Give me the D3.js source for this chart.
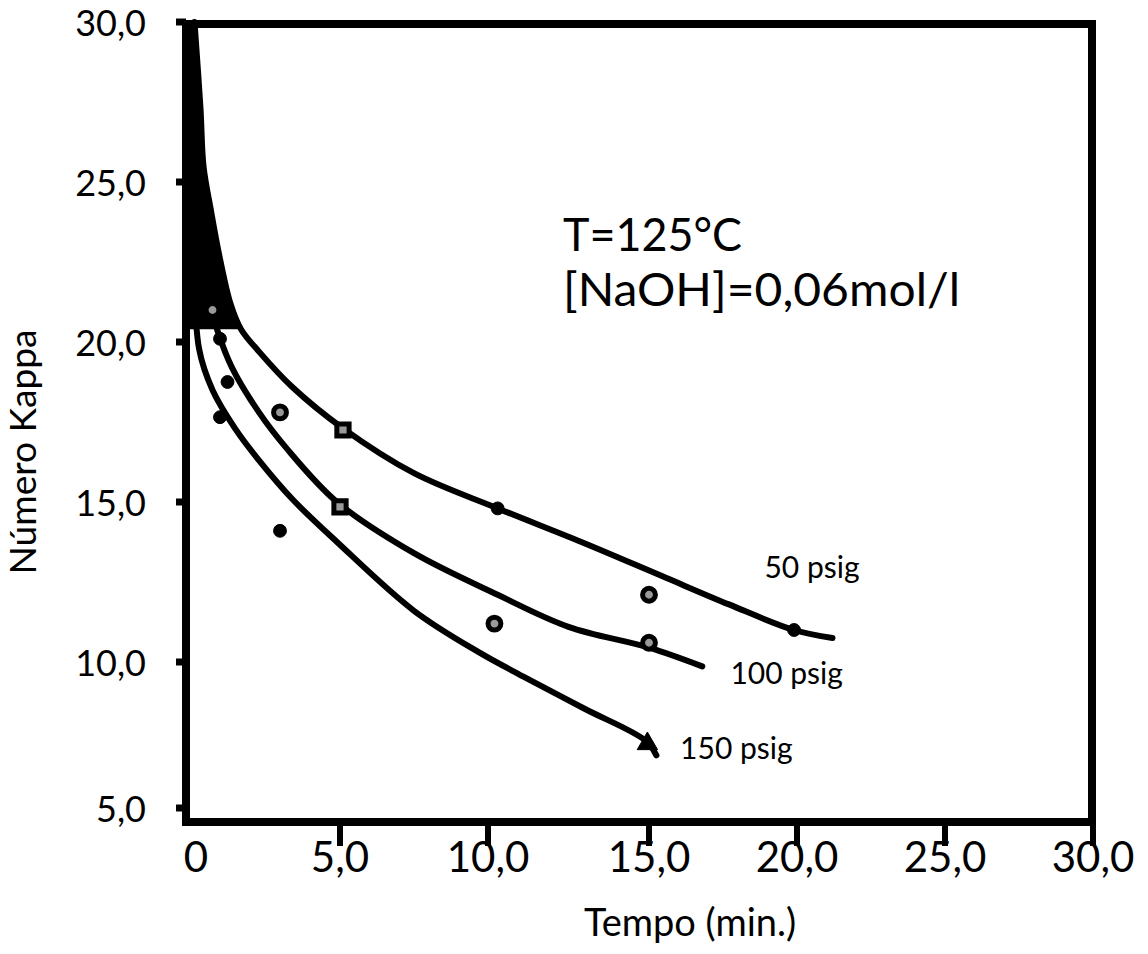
<!DOCTYPE html>
<html>
<head>
<meta charset="utf-8">
<script src="https://cdn.jsdelivr.net/npm/d3@7"></script>
<style>
body { margin: 0; background: white; }
text { font-family: Lato, "Open Sans", sans-serif; fill: black; }
</style>
</head>
<body>
<svg></svg>
<script>
// curve readings (time in min, kappa number)
var time50 = [0.15, 0.35, 0.45, 0.7, 1.0, 1.35, 1.7, 2.3, 3.4, 5.1, 7.5, 10.3, 12.9, 15.4, 17.7, 19.9, 21.2];
var kappa50 = [30, 27.3, 25.5, 24.1, 22.6, 21.2, 20.4, 19.7, 18.6, 17.3, 15.9, 14.8, 13.75, 12.7, 11.8, 11.0, 10.75];

var time100 = [0.15, 0.5, 0.9, 1.4, 2.3, 3.2, 4.9, 7.5, 10.3, 12.5, 15.0, 16.8];
var kappa100 = [24.5, 21.8, 20.4, 19.2, 17.8, 16.7, 15.0, 13.4, 12.1, 11.1, 10.45, 9.85];

var time150 = [0.1, 0.3, 0.75, 1.5, 2.3, 3.4, 4.9, 7.5, 9.7, 11.1, 13.0, 14.9, 15.25];
var kappa150 = [23.5, 19.8, 18.5, 17.3, 16.3, 15.1, 13.75, 11.6, 10.3, 9.5, 8.4, 7.3, 6.8];

// measured points
var markTime = [0.75, 1.0, 1.25, 1.0, 3.0, 3.0, 5.1, 5.0, 10.3, 10.2, 15.0, 15.0, 19.9, 14.95];
var markKappa = [21.0, 20.1, 18.75, 17.65, 17.8, 14.1, 17.25, 14.85, 14.8, 11.2, 12.1, 10.6, 11.0, 7.2];
var markShape = ["open", "filled", "filled", "filled", "open", "filled", "square", "square", "filled", "open", "open", "open", "filled", "triangle"];

var curveNames = ["50 psig", "100 psig", "150 psig"];
var labelTime = [18.9, 17.75, 16.05];
var labelKappa = [12.94, 9.62, 7.05];

var xTicks = [0, 5, 10, 15, 20, 25, 30];
var xTickLabels = ["0", "5,0", "10,0", "15,0", "20,0", "25,0", "30,0"];
var yTicks = [30, 25, 20, 15, 10, 5];
var yTickLabels = ["30,0", "25,0", "20,0", "15,0", "10,0", "5,0"];

var screen = {width: 1148, height: 954};
var frame = {left: 186, right: 1092, top: 24, bottom: 822};

var svg = d3.select("svg")
    .attr("width", screen.width)
    .attr("height", screen.height);

// the scanned axes are not evenly spaced, so map each tick
var xScale = d3.scaleLinear()
    .domain(xTicks)
    .range([190, 340, 488, 649, 797, 945, 1093]);

var yScale = d3.scaleLinear()
    .domain([5, 10, 30])
    .range([808, 662, 22]);

var zip = function(ts, ks) {
    return ts.map(function(t, i) { return {t: t, k: ks[i]}; });
}

var series = [zip(time50, kappa50), zip(time100, kappa100), zip(time150, kappa150)];

var line = d3.line()
    .x(function(d) { return xScale(d.t); })
    .y(function(d) { return yScale(d.k); })
    .curve(d3.curveCatmullRom.alpha(0.5));

// dense ink where the curves pile up near t=0
var wedge = series[0].filter(function(d) { return d.k >= 20.4; });
svg.append("path")
    .datum(wedge)
    .attr("fill", "black")
    .attr("d", d3.area()
        .y(function(d) { return yScale(d.k); })
        .x0(xScale(0))
        .x1(function(d) { return xScale(d.t); })
        .curve(d3.curveMonotoneY));

svg.selectAll(".curve")
    .data(series)
    .enter()
    .append("path")
    .classed("curve", true)
    .attr("fill", "none")
    .attr("stroke", "black")
    .attr("stroke-width", 6)
    .attr("stroke-linecap", "round")
    .attr("d", line);

var marks = zip(markTime, markKappa).map(function(d, i) { d.shape = markShape[i]; return d; });

svg.selectAll(".mark")
    .data(marks)
    .enter()
    .append("path")
    .classed("mark", true)
    .attr("transform", function(d) { return "translate(" + xScale(d.t) + "," + yScale(d.k) + ")"; })
    .attr("d", function(d) {
        if (d.shape == "square") return d3.symbol(d3.symbolSquare, 150)();
        if (d.shape == "triangle") return d3.symbol(d3.symbolTriangle, 180)();
        return d3.symbol(d3.symbolCircle, 130)();
    })
    .attr("fill", function(d) { return d.shape == "open" || d.shape == "square" ? "#999" : "black"; })
    .attr("stroke", "black")
    .attr("stroke-width", function(d) { return d.shape == "open" || d.shape == "square" ? 5 : 1; });

// frame
svg.append("rect")
    .attr("x", frame.left)
    .attr("y", frame.top)
    .attr("width", frame.right - frame.left)
    .attr("height", frame.bottom - frame.top)
    .attr("fill", "none")
    .attr("stroke", "black")
    .attr("stroke-width", 8);

// y ticks
svg.selectAll(".ytick")
    .data(yTicks)
    .enter()
    .append("line")
    .attr("x1", frame.left - 10)
    .attr("x2", frame.left)
    .attr("y1", function(d) { return yScale(d); })
    .attr("y2", function(d) { return yScale(d); })
    .attr("stroke", "black")
    .attr("stroke-width", 7);

svg.selectAll(".ylab")
    .data(yTicks)
    .enter()
    .append("text")
    .attr("x", 146)
    .attr("y", function(d) { return yScale(d) + 14; })
    .attr("text-anchor", "end")
    .attr("font-size", 36)
    .text(function(d, i) { return yTickLabels[i]; });

// x ticks
svg.selectAll(".xtick")
    .data(xTicks.slice(1))
    .enter()
    .append("line")
    .attr("x1", function(d) { return xScale(d); })
    .attr("x2", function(d) { return xScale(d); })
    .attr("y1", frame.bottom)
    .attr("y2", frame.bottom + 24)
    .attr("stroke", "black")
    .attr("stroke-width", 6);

svg.selectAll(".xlab")
    .data(xTicks)
    .enter()
    .append("text")
    .attr("x", function(d) { return xScale(d) + (d == 0 ? 6 : 0); })
    .attr("y", 872)
    .attr("text-anchor", "middle")
    .attr("font-size", 42)
    .text(function(d, i) { return xTickLabels[i]; });

// axis titles
svg.append("text")
    .attr("x", 690)
    .attr("y", 936)
    .attr("text-anchor", "middle")
    .attr("font-size", 38)
    .text("Tempo (min.)");

svg.append("text")
    .attr("transform", "translate(36,452) rotate(-90)")
    .attr("text-anchor", "middle")
    .attr("font-size", 36)
    .attr("textLength", 245)
    .attr("lengthAdjust", "spacingAndGlyphs")
    .text("Número Kappa");

// curve labels
svg.selectAll(".clab")
    .data(curveNames)
    .enter()
    .append("text")
    .attr("x", function(d, i) { return xScale(labelTime[i]); })
    .attr("y", function(d, i) { return yScale(labelKappa[i]); })
    .attr("dy", "0.35em")
    .attr("font-size", 30)
    .text(function(d) { return d; });

// conditions
svg.append("text")
    .attr("x", 563)
    .attr("y", 251)
    .attr("font-size", 46)
    .attr("textLength", 179)
    .attr("lengthAdjust", "spacingAndGlyphs")
    .text("T=125°C");

svg.append("text")
    .attr("x", 563)
    .attr("y", 306)
    .attr("font-size", 46)
    .attr("textLength", 397)
    .attr("lengthAdjust", "spacingAndGlyphs")
    .text("[NaOH]=0,06mol/l");
</script>
</body>
</html>
